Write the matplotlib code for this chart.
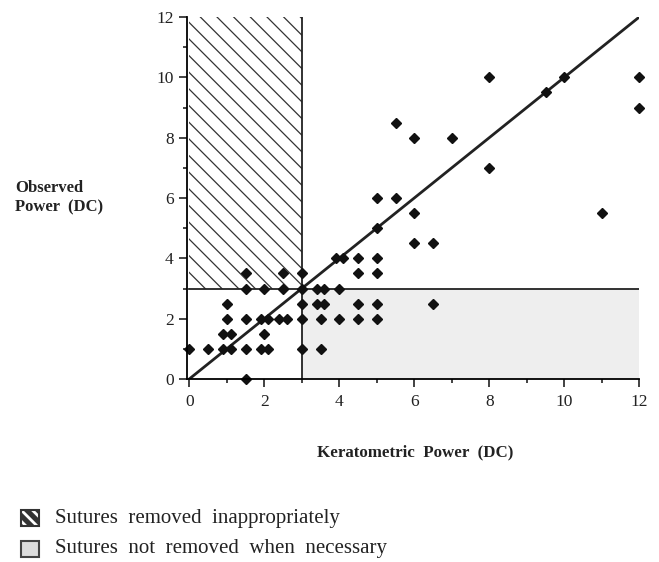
import matplotlib.pyplot as plt
from matplotlib.patches import Rectangle
from matplotlib.ticker import MultipleLocator

# Keratometric power (x) vs observed power (y), DC
kerat = [0, 0.5, 0.9, 1.1, 1.5, 1.9, 2.1, 3.0, 3.5,
         0.9, 1.1, 2.0,
         1.0, 1.5, 1.9, 2.1, 2.4, 2.6, 3.0, 3.5, 4.0, 4.5, 5.0,
         1.0, 3.0, 3.4, 3.6, 4.5, 5.0,
         1.5, 2.0, 2.5, 3.0, 3.4, 3.6, 4.0,
         1.5, 2.5, 3.0, 4.5, 5.0,
         3.9, 4.1, 4.5, 5.0,
         1.5,
         5.0, 5.0, 5.5, 5.5, 6.0, 6.0, 6.0, 6.5, 6.5, 7.0,
         8.0, 8.0, 9.5, 10.0, 11.0, 12.0, 12.0]
observed = [1, 1, 1, 1, 1, 1, 1, 1, 1,
            1.5, 1.5, 1.5,
            2, 2, 2, 2, 2, 2, 2, 2, 2, 2, 2,
            2.5, 2.5, 2.5, 2.5, 2.5, 2.5,
            3, 3, 3, 3, 3, 3, 3,
            3.5, 3.5, 3.5, 3.5, 3.5,
            4, 4, 4, 4,
            0,
            6, 5, 6, 8.5, 8, 5.5, 4.5, 4.5, 2.5, 8,
            10, 7, 9.5, 10, 5.5, 10, 9]

threshold = 3
axis_max = 12
legend_labels = ["Sutures  removed  inappropriately",
                 "Sutures  not  removed  when  necessary"]

serif = ["Liberation Serif", "DejaVu Serif"]
plt.rcParams["font.family"] = serif
plt.rcParams["hatch.linewidth"] = 0.9

fig = plt.figure(figsize=(6.59, 5.62), dpi=100)
ax = fig.add_axes([187 / 659, 183 / 562, 452.3 / 659, 362 / 562])

# shaded zones
ax.add_patch(Rectangle((0, threshold), threshold, axis_max - threshold,
                       facecolor="white", edgecolor="#333333", hatch="\\\\",
                       linewidth=0))
ax.add_patch(Rectangle((threshold, 0), axis_max - threshold, threshold,
                       facecolor="#eeeeee", edgecolor="none"))

ax.plot([0, axis_max + 0.1], [threshold, threshold], color="#222222", lw=1.3)
ax.plot([threshold, threshold], [0, axis_max], color="#222222", lw=1.3)
ax.plot([0, axis_max + 0.05], [0, axis_max + 0.05], color="#222222", lw=2)

ax.plot(kerat, observed, "D", color="#111111", markersize=5, clip_on=False)

ax.set_xlim(-0.06, axis_max)
ax.set_ylim(0, axis_max)
ax.spines["top"].set_visible(False)
ax.spines["right"].set_visible(False)
ax.spines["left"].set_linewidth(1.3)
ax.spines["bottom"].set_linewidth(1.3)
ax.xaxis.set_major_locator(MultipleLocator(2))
ax.yaxis.set_major_locator(MultipleLocator(2))
ax.xaxis.set_minor_locator(MultipleLocator(1))
ax.yaxis.set_minor_locator(MultipleLocator(1))
ax.tick_params(which="major", length=6, width=1.2, labelsize=12.5, colors="#222222")
ax.tick_params(which="minor", length=3, width=1.2, colors="#222222")
ax.tick_params(axis="x", pad=5)

fig.text(15 / 659, 1 - 198 / 562, "Observed\nPower  (DC)", fontsize=12,
         fontweight="bold", ha="left", va="center", linespacing=1.25,
         color="#222222")
fig.text(415 / 659, 1 - 452 / 562, "Keratometric  Power  (DC)", fontsize=12.2,
         fontweight="bold", ha="center", va="center", color="#222222")

# legend drawn by hand, like the printed figure
icon_w, icon_h = 18 / 659, 16 / 562
x0 = 21 / 659
y1, y2 = 1 - 526 / 562, 1 - 557 / 562
fig.patches.append(Rectangle((x0, y1), icon_w, icon_h, transform=fig.transFigure,
                             facecolor="#333333", edgecolor="none"))
plt.rcParams["hatch.linewidth"] = 2.0
fig.patches.append(Rectangle((x0, y1), icon_w, icon_h, transform=fig.transFigure,
                             facecolor="none", edgecolor="white", hatch="\\\\\\",
                             linewidth=0))
fig.patches.append(Rectangle((x0, y1), icon_w, icon_h, transform=fig.transFigure,
                             facecolor="none", edgecolor="#333333", linewidth=1.5))
fig.patches.append(Rectangle((x0, y2), icon_w, icon_h, transform=fig.transFigure,
                             facecolor="#dddddd", edgecolor="#444444", linewidth=1.5))
for i, label in enumerate(legend_labels):
    fig.text(55 / 659, 1 - (518 + 30 * i) / 562, label, fontsize=15,
             ha="left", va="center", color="#222222")

fig.savefig("out.png", dpi=100)
